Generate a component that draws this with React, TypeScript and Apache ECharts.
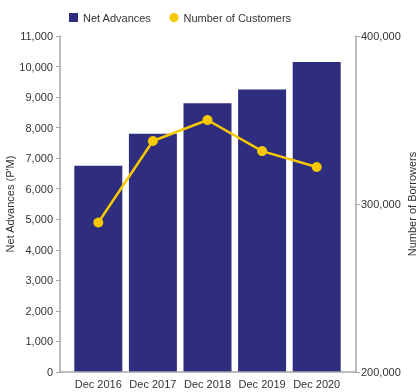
import React, { useEffect, useRef } from "react";
import * as echarts from "echarts";

const categories = ["Dec 2016", "Dec 2017", "Dec 2018", "Dec 2019", "Dec 2020"];
const netAdvances = [6750, 7800, 8800, 9250, 10150];
const customers = [289000, 337500, 350000, 331500, 322000];

const FONT = "Liberation Sans, Arial, sans-serif";
const TXT = "#333333";
const AXIS = "#a6a6a6";

export default function App() {
  const ref = useRef<HTMLDivElement>(null);
  useEffect(() => {
    const chart = echarts.init(ref.current!, null, { renderer: "svg" });
    chart.setOption({
      animation: false,
      textStyle: { fontFamily: FONT },
      legend: {
        top: 7,
        left: 64,
        itemGap: 18,
        itemWidth: 9,
        itemHeight: 9,
        textStyle: { fontSize: 11, color: TXT, fontFamily: FONT },
        data: [
          { name: "Net Advances", icon: "rect" },
          { name: "Number of Customers", icon: "circle" },
        ],
      },
      grid: { left: 71, right: 76, top: 36, bottom: 20, outerBoundsMode: "none", containLabel: false },
      xAxis: {
        type: "category",
        data: categories,
        axisLine: { show: false },
        axisTick: { show: false },
        axisLabel: { color: TXT, fontSize: 11, margin: 6, fontFamily: FONT, interval: 0 },
      },
      yAxis: [
        {
          type: "value",
          min: 0,
          max: 11000,
          interval: 1000,
          offset: 11,
          name: "Net Advances (P'M)",
          nameLocation: "middle",
          nameGap: 45,
          nameMoveOverlap: false,
          nameTextStyle: { color: TXT, fontSize: 11, fontFamily: FONT },
          axisLine: { show: true, lineStyle: { color: AXIS, width: 1.5 } },
          axisTick: { show: true, length: 4, lineStyle: { color: AXIS } },
          axisLabel: {
            color: TXT,
            fontSize: 11,
            margin: 7,
            fontFamily: FONT,
            formatter: (v: number) => v.toLocaleString("en-US"),
          },
          splitLine: { show: false },
        },
        {
          type: "value",
          min: 200000,
          max: 400000,
          interval: 100000,
          offset: 12,
          position: "right",
          name: "Number of Borrowers",
          nameLocation: "middle",
          nameGap: 50,
          nameMoveOverlap: false,
          nameTextStyle: { color: TXT, fontSize: 11, fontFamily: FONT },
          axisLine: { show: true, lineStyle: { color: AXIS, width: 1.5 } },
          axisTick: { show: true, length: 4, lineStyle: { color: AXIS } },
          axisLabel: {
            color: TXT,
            fontSize: 11,
            margin: 5,
            fontFamily: FONT,
            formatter: (v: number) => v.toLocaleString("en-US"),
          },
          splitLine: { show: false },
        },
      ],
      graphic: [
        {
          type: "line",
          shape: { x1: 60, y1: 372, x2: 356, y2: 372 },
          style: { stroke: AXIS, lineWidth: 1.5 },
          z: 10,
        },
      ],
      series: [
        {
          name: "Net Advances",
          type: "bar",
          data: netAdvances,
          barWidth: 48,
          itemStyle: { color: "#2E2D7E" },
        },
        {
          name: "Number of Customers",
          type: "line",
          yAxisIndex: 1,
          data: customers,
          symbol: "circle",
          symbolSize: 10,
          lineStyle: { color: "#F5C800", width: 2.5 },
          itemStyle: { color: "#F5C800" },
        },
      ],
    });
    return () => chart.dispose();
  }, []);
  return (
    <div
      ref={ref}
      style={{ position: "fixed", left: 0, top: 0, width: 420, height: 392 }}
    />
  );
}
